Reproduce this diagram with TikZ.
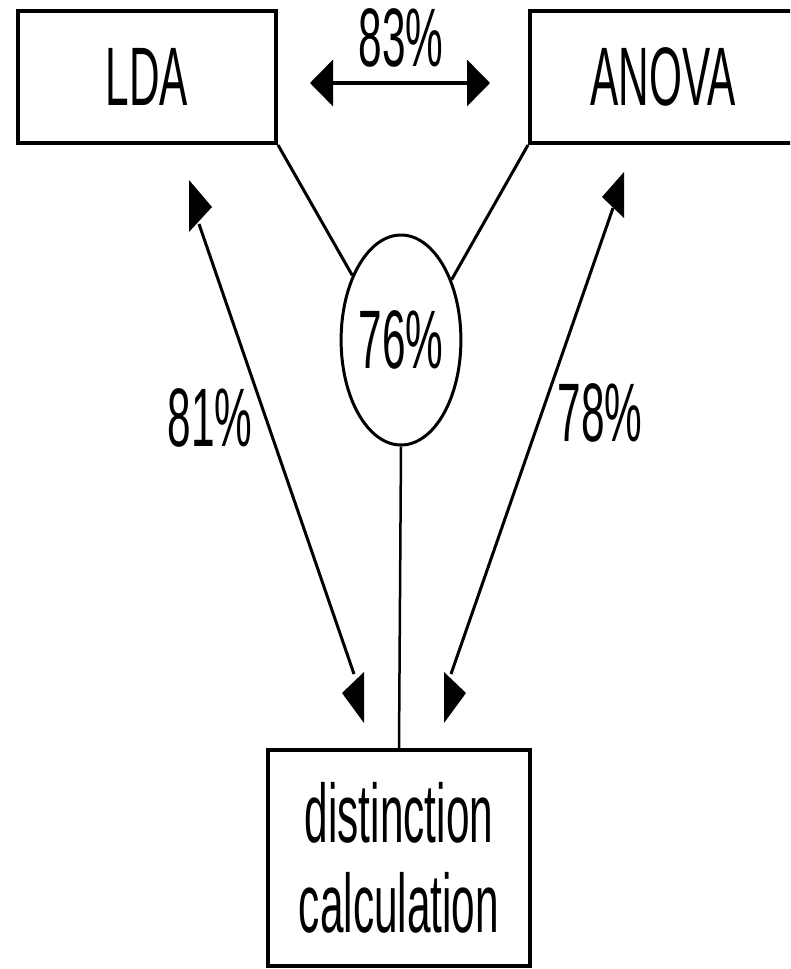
\documentclass[tikz,border=0pt]{standalone}
\usepackage{fontspec}
\newfontfamily\condsf[FakeStretch=0.51]{Liberation Sans}
\usetikzlibrary{arrows.meta,shapes.geometric}
\begin{document}
\begin{tikzpicture}[x=1pt,y=-1pt,
  every node/.style={font=\condsf\fontsize{83}{90}\selectfont, inner sep=0pt},
  boxnode/.style={draw, line width=4pt, rectangle, align=center},
  ovalnode/.style={draw, line width=3pt, ellipse},
  link/.style={line width=3pt},
  hlink/.style={line width=3.5pt, {Triangle[length=23pt,width=46pt]}-{Triangle[length=23pt,width=46pt]}},
  dlink/.style={line width=3pt},
  headfill/.style={fill=black}
]
\useasboundingbox (0,0) rectangle (790,969);
\clip (0,0) rectangle (790,969);

% boxes and the central oval
\node[boxnode, minimum width=258pt, minimum height=132pt] (lda) at (147,77) {LDA};
\node[boxnode, minimum width=266pt, minimum height=132pt] (anova) at (663,77) {ANOVA};
\node[ovalnode, minimum width=116pt, minimum height=210pt] (mid) at (401,340) {76\%};
\node[boxnode, minimum width=262pt, minimum height=216pt] (dist) at (399,858) {distinction\\calculation};

% free ends of the connectors
\coordinate (hl) at (310,83);
\coordinate (hr) at (490,83);
\coordinate (lt) at (199,224);
\coordinate (lb) at (354,674);
\coordinate (rt) at (613,208);
\coordinate (rb) at (451,674);

% connectors
\draw[link] (lda.south east) -- (mid.127);
\draw[link] (anova.south west) -- (mid.50);
\draw[line width=2.5pt] (mid.south) -- (dist.north);
\draw[hlink] (hl) -- (hr);
\draw[dlink] (lt) -- (lb);
\draw[dlink] (rt) -- (rb);

% arrowheads of the slanted arrows (upright back edge)
\fill[headfill] (189,180) -- (189,232) -- (212,207) -- cycle;
\fill[headfill] (364,672) -- (364,723) -- (342,693) -- cycle;
\fill[headfill] (624,172) -- (624,218) -- (602,197) -- cycle;
\fill[headfill] (444,672) -- (444,723) -- (466,693) -- cycle;

% percentages
\node (p83) at (401,38) {83\%};
\node (p81) at (210,418) {81\%};
\node (p78) at (600,413) {78\%};
\end{tikzpicture}
\end{document}
